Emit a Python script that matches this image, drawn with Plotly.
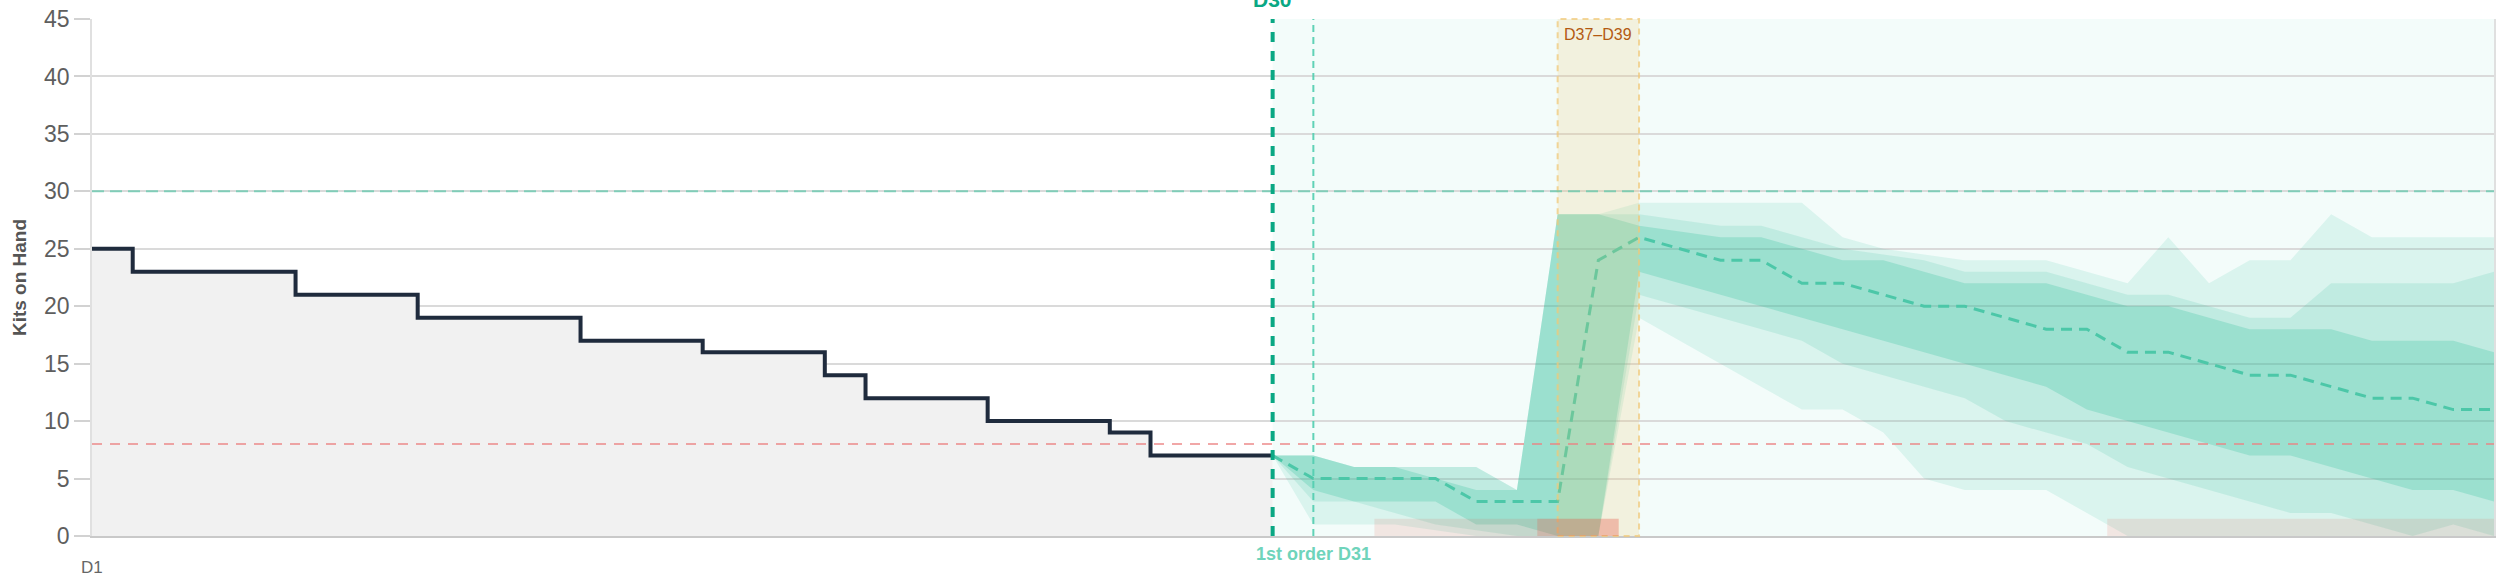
import plotly.graph_objects as go

# ---------------- data ----------------
hist_days = list(range(1, 31))
hist_kits = [25, 23, 23, 23, 23, 21, 21, 21, 19, 19, 19, 19, 17, 17, 17,
             16, 16, 16, 14, 12, 12, 12, 10, 10, 10, 9, 7, 7, 7, 7]

fc_days = list(range(30, 61))
p50 = [7, 5, 5, 5, 5, 3, 3, 3, 24, 26, 25, 24, 24, 22, 22, 21, 20, 20, 19, 18, 18,
       16, 16, 15, 14, 14, 13, 12, 12, 11, 11]
p75 = [7, 7, 6, 6, 5, 4, 4, 28, 28, 27, 26.5, 26, 26, 25, 24, 24, 23, 22, 22, 22, 21,
       20, 20, 19, 18, 18, 18, 17, 17, 17, 16]
p25 = [7, 4, 3, 3, 3, 1, 1, 0, 0, 23, 22, 21, 20, 19, 18, 17, 16, 15, 14, 13, 11,
       10, 9, 8, 7, 7, 6, 5, 4, 4, 3]
p90 = [7, 7, 6, 6, 6, 6, 4, 28, 28, 28, 27.5, 27, 27, 26, 25, 24.5, 24, 23, 23, 23, 22,
       21, 21, 20, 19, 19, 22, 22, 22, 22, 23]
p10 = [7, 3, 3, 2, 1, 0.5, 0, 0, 0, 21, 20, 19, 18, 17, 15, 14, 13, 12, 10, 9, 8,
       6, 5, 4, 3, 2, 2, 1, 0, 1, 0]
p95 = [7, 7, 6, 6, 6, 6, 4, 28, 28, 29, 29, 29, 29, 29, 26, 25, 24.5, 24, 24, 24, 23,
       22, 26, 22, 24, 24, 28, 26, 26, 26, 26]
p5 = [7, 1, 1, 1, 0.5, 0, 0, 0, 0, 19, 17, 15, 13, 11, 11, 9, 5, 4, 4, 4, 2,
      0, 0, 0, 0, 0, 0, 0, 0, 0, 0]

risk_days = [33, 34, 35, 36, 37, 38, 51, 52, 53, 54, 55, 56, 57, 58, 59, 60]
risk_level = 1.5
high_risk_days = [37, 38]

today_day = 30
first_order_day = 31
delivery_window = (37, 39)
reorder_point = 8
target_level = 30
y_ticks = [0, 5, 10, 15, 20, 25, 30, 35, 40, 45]

FONT = "Liberation Sans, Arial, Helvetica, sans-serif"
TEAL = "45,190,155"

fig = go.Figure()


def band(lo, hi, alpha):
    fig.add_trace(go.Scatter(
        x=fc_days + fc_days[::-1], y=hi + lo[::-1], fill="toself",
        fillcolor=f"rgba({TEAL},{alpha})", line=dict(width=0),
        mode="lines", hoverinfo="skip", showlegend=False))


band(p5, p95, 0.12)
band(p10, p90, 0.15)
band(p25, p75, 0.25)

fig.add_trace(go.Scatter(x=fc_days, y=p50, mode="lines",
                         line=dict(color="#4cc7a8", width=3, dash="11px,7px"),
                         hoverinfo="skip", showlegend=False))

fig.add_trace(go.Scatter(x=hist_days, y=hist_kits, mode="lines",
                         line=dict(color="#1f2b3d", width=4, shape="hv"),
                         fill="tozeroy", fillcolor="#f1f1f1",
                         hoverinfo="skip", showlegend=False))


def runs(days):
    out = []
    for d in days:
        if out and d == out[-1][1] + 1:
            out[-1][1] = d
        else:
            out.append([d, d])
    return out


# background of forecast period
fig.add_shape(type="rect", xref="x", yref="paper", x0=today_day, x1=fc_days[-1],
              y0=0, y1=1, fillcolor="rgba(26,188,156,0.05)", line=dict(width=0),
              layer="between")
# delivery window
fig.add_shape(type="rect", xref="x", yref="paper", x0=delivery_window[0],
              x1=delivery_window[1], y0=0, y1=1,
              fillcolor="rgba(240,200,110,0.2)",
              line=dict(color="rgba(240,200,120,0.75)", width=2, dash="6px,5px"),
              layer="above")
# stockout-risk blocks
for a, b in runs(risk_days):
    fig.add_shape(type="rect", xref="x", yref="y", x0=a - 0.5, x1=b + 0.5,
                  y0=0, y1=risk_level, fillcolor="rgba(231,76,60,0.12)",
                  line=dict(width=0), layer="above")
for a, b in runs(high_risk_days):
    fig.add_shape(type="rect", xref="x", yref="y", x0=a - 0.5, x1=b + 0.5,
                  y0=0, y1=risk_level, fillcolor="rgba(231,76,60,0.22)",
                  line=dict(width=0), layer="above")

fig.add_shape(type="line", xref="paper", yref="y", x0=0, x1=1,
              y0=reorder_point, y1=reorder_point,
              line=dict(color="rgba(235,130,130,0.7)", width=2, dash="10px,8px"),
              layer="above")
fig.add_shape(type="line", xref="paper", yref="y", x0=0, x1=1,
              y0=target_level, y1=target_level,
              line=dict(color="rgba(90,200,170,0.7)", width=2, dash="12px,6px"),
              layer="above")
fig.add_shape(type="line", xref="x", yref="paper", x0=today_day, x1=today_day,
              y0=0, y1=1, line=dict(color="#0aa884", width=4, dash="10px,9px"),
              layer="above")
fig.add_shape(type="line", xref="x", yref="paper", x0=first_order_day,
              x1=first_order_day, y0=0, y1=1,
              line=dict(color="rgba(80,205,175,0.9)", width=2, dash="7px,5px"),
              layer="above")

# annotations
fig.add_annotation(x=today_day, y=1, xref="x", yref="paper", text="D30",
                   showarrow=False, yanchor="bottom", yshift=6,
                   font=dict(family=FONT, size=21, color="#0aa884", weight="bold"))
fig.add_annotation(x=first_order_day, y=0, xref="x", yref="paper",
                   text="1st order D31", showarrow=False, yanchor="top", yshift=-6,
                   font=dict(family=FONT, size=18, color="#6fd4bb", weight="bold"))
fig.add_annotation(x=(delivery_window[0] + delivery_window[1]) / 2, y=1, xref="x",
                   yref="paper", text="D37–D39", showarrow=False, yanchor="top",
                   yshift=-5, font=dict(family=FONT, size=16, color="#b35a12"))
fig.add_annotation(x=1, y=0, xref="x", yref="paper", text="D1", showarrow=False,
                   yanchor="top", yshift=-20,
                   font=dict(family=FONT, size=17, color="#666666"))

fig.update_layout(
    width=2500, height=587,
    margin=dict(l=92, r=6, t=19, b=51, autoexpand=False),
    paper_bgcolor="white", plot_bgcolor="white",
    showlegend=False,
    font=dict(family=FONT),
)
fig.update_xaxes(range=[1, 60], showgrid=False, zeroline=False,
                 showticklabels=False, ticks="", automargin=False,
                 showline=True, linecolor="#c9c9c9", linewidth=2)
fig.update_yaxes(range=[0, 45], tickvals=y_ticks, gridcolor="#dadada", gridwidth=1.5,
                 zeroline=False, showline=True, linecolor="#e0e0e0", linewidth=1.5,
                 mirror=True, ticks="outside", ticklen=16, tickcolor="#d2d2d2",
                 tickwidth=1.5, automargin=False, ticklabeloverflow="allow",
                 tickfont=dict(family=FONT, size=23, color="#5e5e5e"),
                 title=dict(text="Kits on Hand", standoff=12,
                            font=dict(family=FONT, size=19, color="#555555",
                                      weight="bold")))

fig.write_html("out.html",
               config={"displayModeBar": False},
               post_script="document.body.style.margin='0';"
                           "document.body.style.overflow='hidden';")
